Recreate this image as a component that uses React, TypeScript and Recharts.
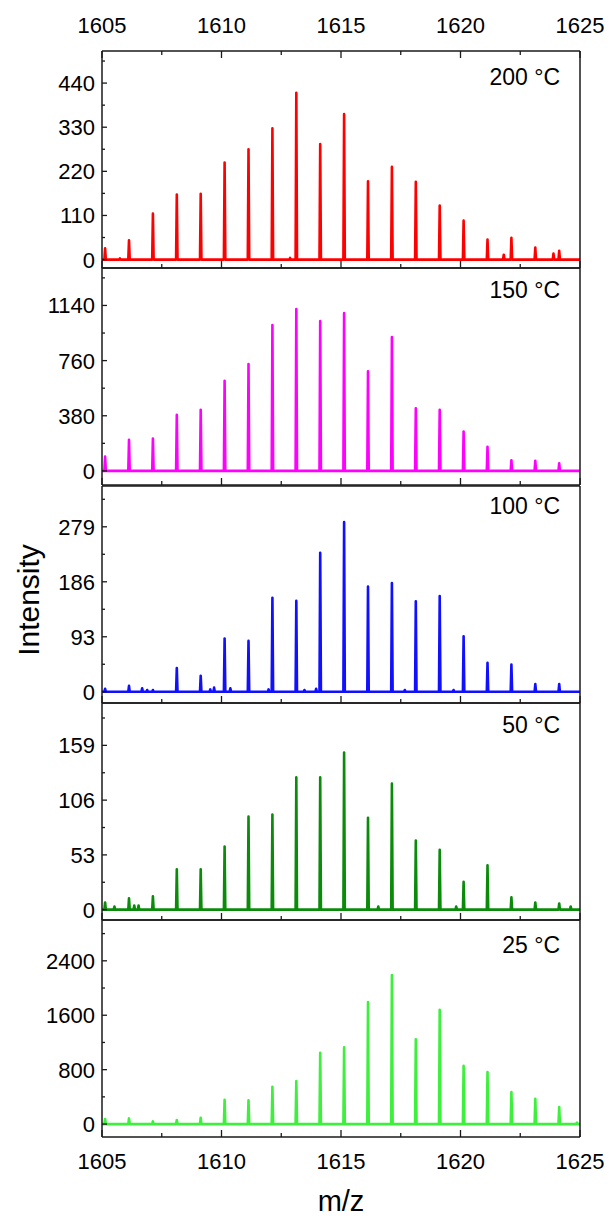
import React from 'react';
import { LineChart, Line, XAxis, YAxis } from 'recharts';

// ---------- DATA ----------
const mzPeaks = [
  1605.13, 1606.13, 1607.13, 1608.13, 1609.13, 1610.13, 1611.13, 1612.13, 1613.13, 1614.13,
  1615.13, 1616.13, 1617.13, 1618.13, 1619.13, 1620.13, 1621.13, 1622.13, 1623.13, 1624.13,
];

const heights200 = [28, 48, 115, 162, 164, 242, 275, 327, 416, 288, 363, 195, 231, 194, 135, 97, 50, 54, 30, 22];
const minorMz200 = [1605.75, 1612.87, 1621.81, 1623.89];
const minorH200 = [3, 4, 12, 15];

const heights150 = [99, 214, 223, 386, 421, 621, 736, 1005, 1115, 1032, 1087, 687, 922, 432, 421, 271, 166, 74, 69, 53];
const minorMz150: number[] = [];
const minorH150: number[] = [];

const heights100 = [5, 10, 3, 40, 27, 90, 86, 159, 154, 235, 287, 178, 184, 153, 162, 94, 49, 46, 13, 13];
const minorMz100 = [1606.68, 1606.89, 1609.53, 1609.69, 1610.37, 1611.97, 1613.47, 1613.96, 1617.67, 1619.71];
const minorH100 = [6, 3, 4, 7, 6, 4, 3, 5, 3, 3];

const heights50 = [7, 11, 13, 39, 39, 61, 90, 92, 128, 128, 152, 89, 122, 67, 58, 27, 43, 12, 7, 6];
const minorMz50 = [1605.52, 1606.35, 1606.53, 1616.56, 1619.82, 1624.61];
const minorH50 = [3, 4, 4, 3, 3, 3];

const heights25 = [74, 83, 39, 59, 93, 358, 348, 549, 632, 1049, 1127, 1794, 2191, 1245, 1681, 858, 765, 471, 372, 250];
const minorMz25 = [1624.87];
const minorH25 = [20];

const xDomain: [number, number] = [1605, 1625];
const xMajorTicks = [1605, 1610, 1615, 1620, 1625];
const xMinorTicks = [1607.5, 1612.5, 1617.5, 1622.5];

const panelLabels = ['200 °C', '150 °C', '100 °C', '50 °C', '25 °C'];
const panelColors = ['#ff0000', '#ff00ff', '#1010ff', '#0a8c0a', '#3cf03c'];
const yDomains: [number, number][] = [[-21, 520], [-97, 1398], [-19, 348], [-10, 200], [-190, 3000]];
const yMajor = [
  [0, 110, 220, 330, 440],
  [0, 380, 760, 1140],
  [0, 93, 186, 279],
  [0, 53, 106, 159],
  [0, 800, 1600, 2400],
];
const yMinor = [
  [55, 165, 275, 385, 495],
  [190, 570, 950, 1330],
  [46.5, 139.5, 232.5, 325.5],
  [26.5, 79.5, 132.5, 185.5],
  [400, 1200, 2000, 2800],
];

const xTitle = 'm/z';
const yTitle = 'Intensity';

// ---------- LAYOUT ----------
const W = 609;
const H = 1218;
const PLOT_LEFT = 102;
const PLOT_RIGHT = 580;
const PANEL_TOPS = [51, 268, 486, 703, 920];
const PANEL_H = 217;
const PAD = 45;
const XAXIS_H = 30;
const YAXIS_W = 60;
const RAXIS_W = 10;
const FONT = "Arial, 'Liberation Sans', sans-serif";
const AXIS_COLOR = '#1a1a1a';
const TICK_FONT = 22;

function buildSeries(mz: number[], h: number[], mMz: number[], mH: number[]) {
  const peaks = [
    ...mz.map((m, i) => ({ m, v: h[i] })),
    ...mMz.map((m, i) => ({ m, v: mH[i] })),
  ].sort((a, b) => a.m - b.m);
  const pts: { x: number; y: number }[] = [{ x: xDomain[0], y: 0 }];
  for (const p of peaks) {
    pts.push({ x: p.m - 0.03, y: 0 });
    pts.push({ x: p.m, y: p.v });
    pts.push({ x: p.m + 0.03, y: 0 });
  }
  pts.push({ x: xDomain[1], y: 0 });
  return pts;
}

const series = [
  buildSeries(mzPeaks, heights200, minorMz200, minorH200),
  buildSeries(mzPeaks, heights150, minorMz150, minorH150),
  buildSeries(mzPeaks, heights100, minorMz100, minorH100),
  buildSeries(mzPeaks, heights50, minorMz50, minorH50),
  buildSeries(mzPeaks, heights25, minorMz25, minorH25),
];

const makeXTick = (side: 'top' | 'bottom', showTicks: boolean, showLabels: boolean) => (props: any) => {
  const { x, y, payload } = props;
  const v = payload.value;
  const major = xMajorTicks.includes(v);
  const len = major ? 7 : 4;
  const dir = side === 'top' ? 1 : -1;
  return (
    <g>
      {showTicks && (
        <line x1={x} x2={x} y1={y} y2={y + dir * len} stroke={AXIS_COLOR} strokeWidth={1.3} />
      )}
      {showLabels && major && (
        <text
          x={x}
          y={side === 'top' ? y - 18 : y + 32}
          textAnchor="middle"
          fontSize={TICK_FONT}
          fontFamily={FONT}
          fill="#000"
        >
          {v}
        </text>
      )}
    </g>
  );
};

const makeYTick = (majors: number[]) => (props: any) => {
  const { x, y, payload } = props;
  const v = payload.value;
  const major = majors.includes(v);
  const len = major ? 5 : 3;
  return (
    <g>
      <line x1={x} x2={x + len} y1={y} y2={y} stroke={AXIS_COLOR} strokeWidth={1.3} />
      {major && (
        <text x={x - 7} y={y + 8} textAnchor="end" fontSize={TICK_FONT} fontFamily={FONT} fill="#000">
          {v}
        </text>
      )}
    </g>
  );
};

function Panel({ idx }: { idx: number }) {
  const top = PANEL_TOPS[idx];
  const first = idx === 0;
  const last = idx === PANEL_TOPS.length - 1;
  const axisLine = { stroke: AXIS_COLOR, strokeWidth: 1.5 };
  const xTicks = [...xMajorTicks, ...xMinorTicks].sort((a, b) => a - b);
  const yTicks = [...yMajor[idx], ...yMinor[idx]].sort((a, b) => a - b);
  return (
    <div style={{ position: 'absolute', left: 0, top: top - PAD }}>
      <LineChart
        width={W}
        height={PANEL_H + 2 * PAD}
        data={series[idx]}
        margin={{
          top: PAD - XAXIS_H,
          bottom: PAD - XAXIS_H,
          left: PLOT_LEFT - YAXIS_W,
          right: W - PLOT_RIGHT - RAXIS_W,
        }}
      >
        <XAxis
          xAxisId="b"
          dataKey="x"
          type="number"
          domain={xDomain}
          allowDataOverflow
          ticks={xTicks}
          interval={0}
          orientation="bottom"
          height={XAXIS_H}
          tickSize={0}
          tickMargin={0}
          tickLine={false}
          axisLine={axisLine}
          tick={makeXTick('bottom', true, last)}
        />
        <XAxis
          xAxisId="t"
          dataKey="x"
          type="number"
          domain={xDomain}
          allowDataOverflow
          ticks={xTicks}
          interval={0}
          orientation="top"
          height={XAXIS_H}
          tickSize={0}
          tickMargin={0}
          tickLine={false}
          axisLine={axisLine}
          tick={makeXTick('top', first, first)}
        />
        <YAxis
          yAxisId="l"
          type="number"
          domain={yDomains[idx]}
          allowDataOverflow
          ticks={yTicks}
          interval={0}
          width={YAXIS_W}
          tickSize={0}
          tickMargin={0}
          tickLine={false}
          axisLine={axisLine}
          tick={makeYTick(yMajor[idx])}
        />
        <YAxis
          yAxisId="r"
          orientation="right"
          type="number"
          domain={yDomains[idx]}
          allowDataOverflow
          ticks={[]}
          width={RAXIS_W}
          tick={false}
          tickLine={false}
          axisLine={axisLine}
        />
        <Line
          xAxisId="t"
          yAxisId="r"
          dataKey="y"
          stroke="none"
          dot={false}
          activeDot={false}
          isAnimationActive={false}
        />
        <Line
          xAxisId="b"
          yAxisId="l"
          type="linear"
          dataKey="y"
          stroke={panelColors[idx]}
          strokeWidth={2.6}
          strokeLinejoin="round"
          dot={false}
          activeDot={false}
          isAnimationActive={false}
        />
      </LineChart>
    </div>
  );
}

const labelCenters = [77, 290, 506, 725, 945];

export default function App() {
  return (
    <div style={{ position: 'absolute', left: 0, top: 0, width: W, height: H, background: '#fff', overflow: 'hidden' }}>
      {PANEL_TOPS.map((_, i) => (
        <Panel key={i} idx={i} />
      ))}
      <svg width={W} height={H} style={{ position: 'absolute', left: 0, top: 0, pointerEvents: 'none' }}>
        {panelLabels.map((t, i) => (
          <text key={t} x={560} y={labelCenters[i] + 8} textAnchor="end" fontSize={23} fontFamily={FONT} fill="#000">
            {t}
          </text>
        ))}
        <text
          x={(PLOT_LEFT + PLOT_RIGHT) / 2}
          y={1211}
          textAnchor="middle"
          fontSize={29}
          fontFamily={FONT}
          fill="#000"
        >
          {xTitle}
        </text>
        <text
          transform={`translate(39, ${600}) rotate(-90)`}
          textAnchor="middle"
          fontSize={30}
          fontFamily={FONT}
          fill="#000"
        >
          {yTitle}
        </text>
      </svg>
    </div>
  );
}
